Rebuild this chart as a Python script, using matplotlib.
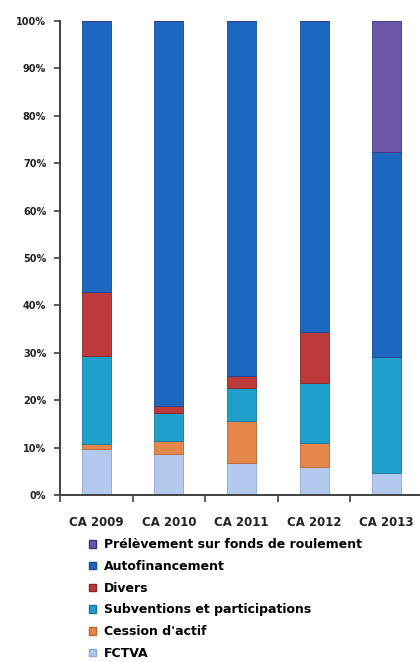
import matplotlib.pyplot as plt
from matplotlib.patches import Patch
from matplotlib.ticker import PercentFormatter

years = ["CA 2009", "CA 2010", "CA 2011", "CA 2012", "CA 2013"]

# part de chaque ressource (en %), du bas vers le haut
fctva = [9.8, 8.6, 6.8, 5.9, 4.6]
cession = [0.9, 2.8, 8.9, 5.0, 0.0]
subventions = [18.6, 5.8, 6.9, 12.8, 24.5]
divers = [13.6, 1.6, 2.6, 10.6, 0.0]
autofinancement = [57.1, 81.2, 74.8, 65.7, 43.2]
prelevement = [0.0, 0.0, 0.0, 0.0, 27.7]

series = [
    ("FCTVA", fctva, "#b3caee", "#8fa8d4"),
    ("Cession d'actif", cession, "#e5874b", "#b8652e"),
    ("Subventions et participations", subventions, "#1e9fcc", "#157a9e"),
    ("Divers", divers, "#bd3a3a", "#8a2424"),
    ("Autofinancement", autofinancement, "#1e67c0", "#154a8e"),
    ("Prélèvement sur fonds de roulement", prelevement, "#6c56a8", "#3d2f7a"),
]

fig = plt.figure(figsize=(4.2, 6.62), dpi=100)
ax = fig.add_axes([0.143, 0.2523, 0.864, 0.7160])

x = range(len(years))
bottom = [0.0] * len(years)
for name, vals, col, edge in series:
    ax.bar(x, vals, 0.4, bottom=bottom, color=col, edgecolor=edge, linewidth=0.6)
    bottom = [b + v for b, v in zip(bottom, vals)]

ax.set_xlim(-0.5, 4.5)
ax.set_ylim(0, 100)
ax.set_yticks(range(0, 101, 10))
ax.yaxis.set_major_formatter(PercentFormatter(decimals=0))
ax.set_xticks([i - 0.5 for i in range(6)], minor=False)
ax.set_xticklabels([])
ax.set_xticks(list(x), minor=True)
ax.set_xticklabels(years, minor=True)
ax.tick_params(axis="x", which="minor", length=0, pad=15, labelsize=8.5)
ax.tick_params(axis="x", which="major", length=5, width=1.2, color="#404040")
ax.tick_params(axis="y", length=4, width=1.2, color="#404040", labelsize=7, pad=6)
for lab in ax.get_xticklabels(minor=True) + ax.get_yticklabels():
    lab.set_fontweight("bold")
    lab.set_color("#222222")

for s in ["top", "right"]:
    ax.spines[s].set_visible(False)
for s in ["left", "bottom"]:
    ax.spines[s].set_color("#404040")
    ax.spines[s].set_linewidth(1.4)

handles = [Patch(facecolor=col, edgecolor=edge, label=name) for name, _, col, edge in reversed(series)]
fig.legend(handles=handles, loc="upper left", bbox_to_anchor=(0.212, 0.187),
           frameon=False, prop={"weight": "bold", "size": 9},
           handlelength=0.55, handleheight=0.55, handletextpad=0.65,
           labelspacing=0.70, borderpad=0, borderaxespad=0)

fig.savefig("out.png", dpi=100)
